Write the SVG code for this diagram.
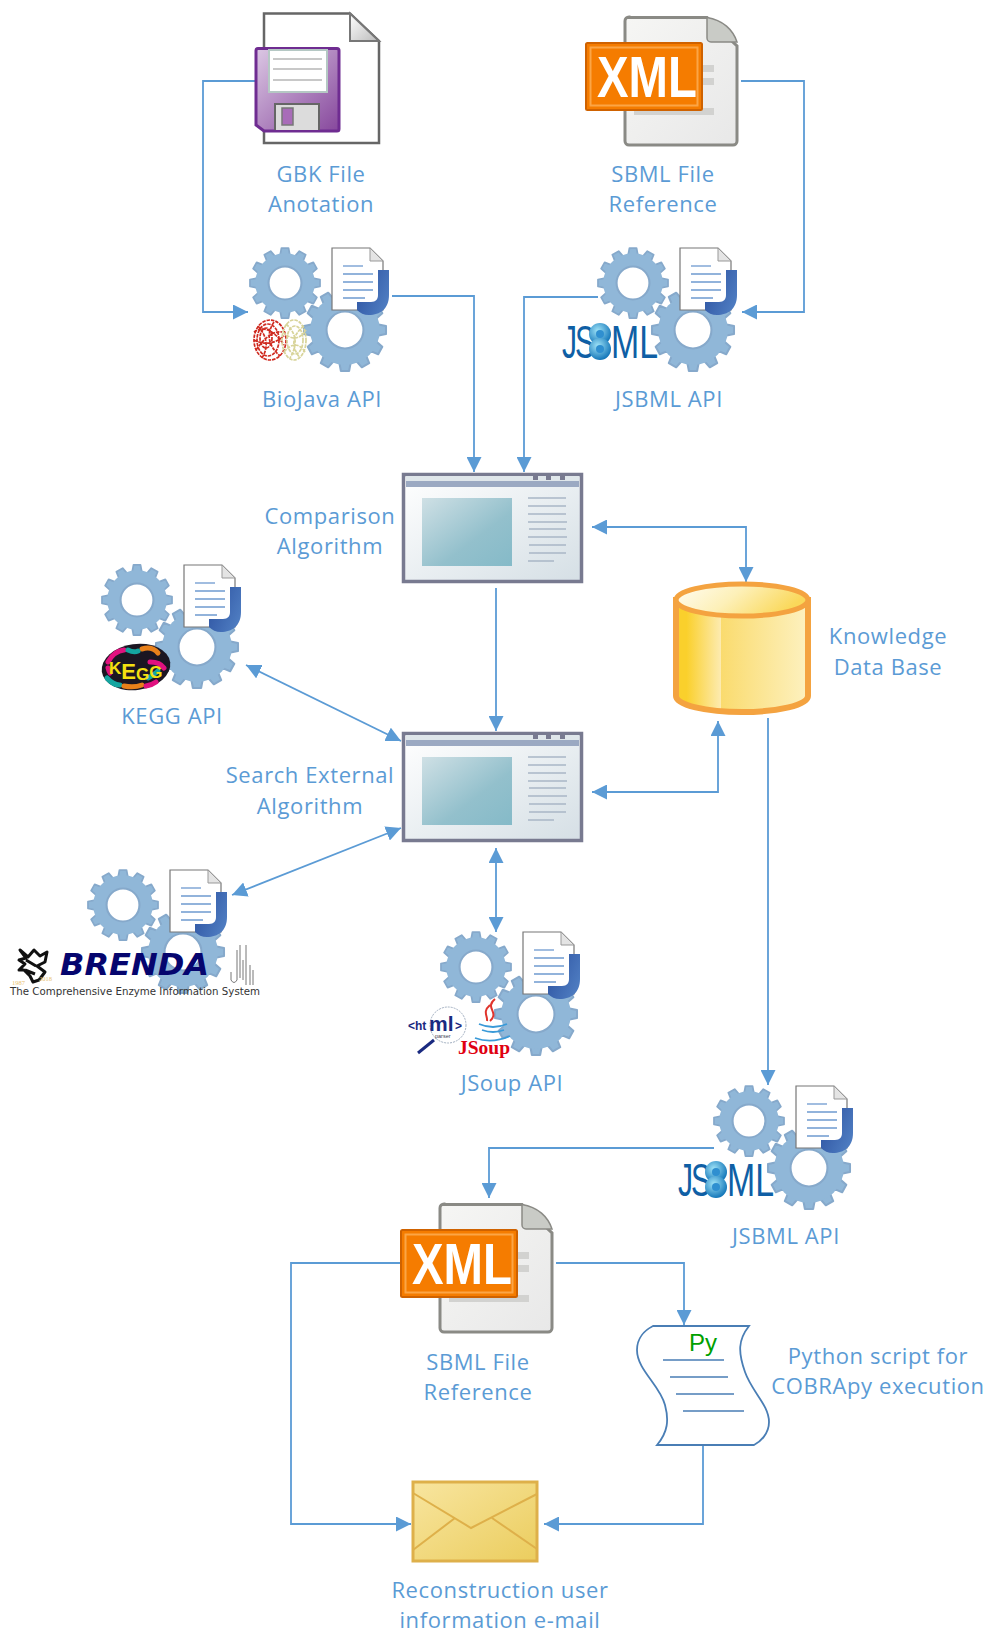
<svg xmlns="http://www.w3.org/2000/svg" xmlns:xlink="http://www.w3.org/1999/xlink" width="989" height="1632" viewBox="0 0 989 1632">
<style>
.lbl{font-family:"Open Sans","Noto Sans",sans-serif;font-size:22px;letter-spacing:.6px;fill:#5b9bd5;text-anchor:middle}
.c{fill:none;stroke:#5b9bd5;stroke-width:1.8;marker-end:url(#a)}
.b{marker-start:url(#a)}
.gear{fill:#90b7d8;stroke:#86a9cb;stroke-width:5;stroke-linejoin:round}
.hole{fill:#fff;stroke:#86a9cb}
.dl{stroke:#6f9ad0;stroke-width:1.3}
.wl{stroke:#a9b6c6;stroke-width:1.5}
</style>
<defs>
<marker id="a" viewBox="0 0 10 10" refX="10" refY="5" markerWidth="15" markerHeight="15" markerUnits="userSpaceOnUse" orient="auto-start-reverse"><path d="M0 0L10 5L0 10Z" fill="#5b9bd5"/></marker>
<linearGradient id="jg" x1="0" x2="1" y1="0" y2="0.6"><stop offset="0" stop-color="#2a4f9e"/><stop offset="1" stop-color="#4d7bc0"/></linearGradient>
<linearGradient id="wg" x1="0" y1="0" x2="1" y2="1"><stop offset="0" stop-color="#fff"/><stop offset="1" stop-color="#d5dfe5"/></linearGradient>
<linearGradient id="tg" x1="0" y1="0" x2="1" y2="1"><stop offset="0" stop-color="#cfe0e5"/><stop offset=".6" stop-color="#93c0cc"/><stop offset="1" stop-color="#85bac8"/></linearGradient>
<linearGradient id="dbg" x1="0" x2="1" y1="0" y2="0"><stop offset="0" stop-color="#fad02c"/><stop offset=".08" stop-color="#fad02c"/><stop offset=".34" stop-color="#fdebb0"/><stop offset=".34" stop-color="#fadb6e"/><stop offset="1" stop-color="#fdf1c0"/></linearGradient>
<linearGradient id="dbt" x1="0" x2="1" y1="0" y2="0.3"><stop offset="0" stop-color="#fffdf5"/><stop offset=".5" stop-color="#fdf0b8"/><stop offset="1" stop-color="#fad85a"/></linearGradient>
<linearGradient id="fg" x1="0" y1="0" x2="1" y2="1"><stop offset="0" stop-color="#dcc8e4"/><stop offset="1" stop-color="#86479c"/></linearGradient>
<linearGradient id="fold" x1="0" y1="0" x2="1" y2="1"><stop offset="0" stop-color="#fff"/><stop offset="1" stop-color="#bbb"/></linearGradient>
<linearGradient id="xp" x1="0" y1="0" x2="1" y2="1"><stop offset="0" stop-color="#f6f6f4"/><stop offset="1" stop-color="#e8e8e8"/></linearGradient>
<linearGradient id="eg" x1="0" y1="0" x2="1" y2="1"><stop offset="0" stop-color="#f8e59f"/><stop offset="1" stop-color="#ebcd5e"/></linearGradient>
<radialGradient id="ball" cx=".4" cy=".35" r=".7"><stop offset="0" stop-color="#9fe3f7"/><stop offset="1" stop-color="#0a6fb5"/></radialGradient>
<path id="gearShape" d="M-10-100L10-100L14-79L27-75L41-91L59-81L51-61L61-51L81-59L91-41L75-27L79-14L100-10L100 10L79 14L75 27L91 41L81 59L61 51L51 61L59 81L41 91L27 75L14 79L10 100L-10 100L-14 79L-27 75L-41 91L-59 81L-51 61L-61 51L-81 59L-91 41L-75 27L-79 14L-100 10L-100-10L-79-14L-75-27L-91-41L-81-59L-61-51L-51-61L-59-81L-41-91L-27-75L-14-79Z"/>
<g id="api">
<g transform="scale(.35)"><use href="#gearShape" class="gear"/><circle r="85" fill="#90b7d8"/><circle r="47" class="hole" stroke-width="6"/></g>
<g transform="translate(60 47) scale(.41)"><use href="#gearShape" class="gear"/><circle r="85" fill="#90b7d8"/><circle r="45" class="hole" stroke-width="5"/></g>
<path d="M47-35H85L98-22V27H47Z" fill="#fff" stroke="#777" stroke-width="1.2"/>
<path d="M85-35V-22H98Z" fill="#e4e4e4" stroke="#999" stroke-width="1"/>
<path d="M58-17H78" class="dl" stroke-width="2.2"/><path d="M58-9H88M58-1H88M58 7H88M58 15H80" class="dl"/>
<path d="M93-13H104V12C104 26 95 32 84 32C79 32 75 30 72 27V19H86C91 19 93 16 93 12Z" fill="url(#jg)"/>
</g>
<g id="win">
<rect x="1.5" y="1.5" width="178" height="107" fill="url(#wg)" stroke="#787a90" stroke-width="3.5"/>
<rect x="4" y="3" width="173" height="5" fill="#dfe6ea"/>
<rect x="4" y="8" width="173" height="6" fill="#9ba9c2"/>
<path d="M131 3h5v4h-5zM144 3h5v4h-5zM158 3h5v4h-5z" fill="#787a90"/>
<rect x="20" y="25" width="90" height="68" fill="url(#tg)"/>
<path d="M126 25H164M126 33H164M126 41H164M127 56H164M127 72H164M127 80H164" class="wl"/>
<path d="M126 49H165M126 64H165M126 88H152" class="wl" stroke-width="2.6"/>
</g>
<g id="xml">
<path d="M6 1.5H84L114 30V125a4 4 0 0 1-4 4H6a4 4 0 0 1-4-4V5a4 4 0 0 1 4-4Z" fill="url(#xp)" stroke="#8a8a85" stroke-width="3"/>
<path d="M84 1.5V22a4 4 0 0 0 4 4H114C110 14 100 4 84 1.5Z" fill="#c9cbc6" stroke="#8a8a85" stroke-width="1.5"/>
<path d="M70 49h21v7H70zM70 62h21v7H70zM11 92h80v7H11z" fill="#d2d2d0"/>
<rect x="-37" y="27" width="116" height="67" rx="1.5" fill="#f57c00" stroke="#cf6200" stroke-width="2"/>
<rect x="-32.500" y="31.500" width="107" height="58" fill="none" stroke="#fba546" stroke-width="2"/>
<text x="-26" y="81" font-family="'Liberation Sans',sans-serif" font-size="58" font-weight="700" fill="#fff" textLength="100" lengthAdjust="spacingAndGlyphs">XML</text>
</g>
<g id="jsbml">
<text x="0" y="33" font-family="'Liberation Sans',sans-serif" font-size="46" fill="#0f5fa5" textLength="15" lengthAdjust="spacingAndGlyphs">J</text>
<text x="13" y="33" font-family="'Liberation Sans',sans-serif" font-size="46" fill="#0f5fa5" textLength="20" lengthAdjust="spacingAndGlyphs">S</text>
<circle cx="38" cy="9" r="11" fill="url(#ball)"/><circle cx="38" cy="24" r="11" fill="url(#ball)"/>
<circle cx="38" cy="9" r="4" fill="#2f8fd0"/><circle cx="38" cy="24" r="4" fill="#2f8fd0"/>
<text x="49" y="33" font-family="'Liberation Sans',sans-serif" font-size="46" fill="#0f5fa5" textLength="47" lengthAdjust="spacingAndGlyphs">ML</text>
</g>
</defs>

<g id="connectors">
<path class="c" d="M255 81H203V312H248"/>
<path class="c" d="M741 81H804V312H742"/>
<path class="c" d="M392 296H474V472"/>
<path class="c" d="M598 297H524V472"/>
<path class="c b" d="M592 527H746V582"/>
<path class="c" d="M496 588V731"/>
<path class="c b" d="M592 792H718V721"/>
<path class="c" d="M768 718V1085"/>
<path class="c b" d="M246 665L401 741"/>
<path class="c b" d="M232 895L401 828"/>
<path class="c b" d="M496 848V932"/>
<path class="c" d="M714 1148H489V1198"/>
<path class="c" d="M556 1263H684V1325"/>
<path class="c" d="M400 1263H291V1524H411"/>
<path class="c" d="M703 1445V1524H544"/>
</g>

<g id="gbk-file">
<path d="M264 13.500H350L379 41V143H264Z" fill="#fff" stroke="#666" stroke-width="2.5"/>
<path d="M350 13.500V41H379Z" fill="url(#fold)" stroke="#777" stroke-width="2"/>
<path d="M258 48.500H337a2 2 0 0 1 2 2V129a2 2 0 0 1-2 2H264L256 125V50.500a2 2 0 0 1 2-2Z" fill="url(#fg)" stroke="#6f2c91" stroke-width="3"/>
<rect x="269" y="50" width="58" height="42" fill="#fff" stroke="#b5c8c4" stroke-width="2"/>
<path d="M273 59H322M273 69H322M273 80H322" stroke="#c8c8c8" stroke-width="2"/>
<path d="M275 130V104H319V130" fill="#dcdcdc" stroke="#666" stroke-width="2"/>
<rect x="282" y="108" width="11" height="17" fill="#a86cb8" stroke="#777" stroke-width="1.500"/>
<text class="lbl" x="321" y="182">GBK File</text>
<text class="lbl" x="321" y="212">Anotation</text>
</g>

<g id="sbml-file-top">
<use href="#xml" x="623" y="16"/>
<text class="lbl" x="663" y="182">SBML File</text>
<text class="lbl" x="663" y="212">Reference</text>
</g>

<g id="biojava-api">
<use href="#api" x="285" y="283"/>
<g fill="none" stroke-width="1.700" stroke-dasharray="3.500 1">
<g stroke="#cf2a20"><ellipse cx="270" cy="340" rx="16" ry="20"/><ellipse cx="268" cy="340" rx="11" ry="16"/><ellipse cx="266" cy="338" rx="6" ry="10"/><path d="M254 332Q268 322 284 345M256 350Q270 330 282 332M258 326Q272 342 262 358M274 322Q262 340 280 356M254 340Q270 348 284 336"/></g>
<g stroke="#d8d49a"><ellipse cx="294" cy="340" rx="12" ry="20"/><ellipse cx="295" cy="340" rx="8" ry="14"/><path d="M283 332Q296 345 306 330M284 352Q296 338 305 352M286 324Q302 338 290 358M304 326Q286 340 300 358"/></g>
</g>
<text class="lbl" x="322" y="407">BioJava API</text>
</g>

<g id="jsbml-api-top">
<use href="#api" x="633" y="283"/>
<use href="#jsbml" x="562" y="325"/>
<text class="lbl" x="669" y="407">JSBML API</text>
</g>

<g id="comparison-algorithm">
<use href="#win" x="402" y="473"/>
<text class="lbl" x="330" y="524">Comparison</text>
<text class="lbl" x="330" y="554">Algorithm</text>
</g>

<g id="knowledge-db">
<path d="M676 600V696C676 705 706 712 742 712C778 712 808 705 808 696V600Z" fill="url(#dbg)" stroke="#f4a340" stroke-width="6"/>
<ellipse cx="742" cy="600" rx="66" ry="16" fill="url(#dbt)" stroke="#f4a340" stroke-width="5"/>
<text class="lbl" x="888" y="644">Knowledge</text>
<text class="lbl" x="888" y="675">Data Base</text>
</g>

<g id="kegg-api">
<use href="#api" x="137" y="600"/>
<ellipse cx="136" cy="667" rx="34.500" ry="23" fill="#1b1622" transform="rotate(-8 136 667)"/>
<g fill="none" stroke-width="5" stroke-linecap="round">
<path d="M108 662q6-11 16-12" stroke="#e0117f"/><path d="M142 649q10-3 16 4" stroke="#e8801a"/><path d="M150 662q10 0 14 6" stroke="#e0117f"/><path d="M107 678q6 7 13 7" stroke="#14a5a0"/><path d="M124 686q10 2 18-1" stroke="#e8801a"/><path d="M148 678q6-3 10-7" stroke="#14a5a0"/><path d="M128 650q6 3 10 1" stroke="#14a5a0"/><path d="M146 686q6-1 10-4" stroke="#e0117f"/><path d="M108 668q1 4 2 5" stroke="#e0117f"/>
</g>
<text x="109" y="674" font-family="'Liberation Sans',sans-serif" font-weight="700" font-size="17" fill="#f4e010">K<tspan font-size="22" dy="5">E</tspan><tspan dy="1">G</tspan><tspan dy="-2">G</tspan></text>
<text class="lbl" x="172" y="724">KEGG API</text>
</g>

<g id="search-external">
<use href="#win" x="402" y="732"/>
<text class="lbl" x="310" y="783">Search External</text>
<text class="lbl" x="310" y="814">Algorithm</text>
</g>

<g id="brenda-api">
<use href="#api" x="123" y="905"/>
<text x="60" y="975" font-family="'DejaVu Sans',sans-serif" font-weight="700" font-style="italic" font-size="31" fill="#05056e" textLength="149" lengthAdjust="spacingAndGlyphs">BRENDA</text>
<path d="M20 950l8 7 6-7 6 6 7-4-2 10-8 4 8 6-6 8-6 2-3-6-6-6-5 0 6-6-6-4 7-2ZM26 960l10 6M25 970l10 4" fill="none" stroke="#111" stroke-width="3" stroke-linejoin="round"/>
<text x="12" y="985" font-family="'Liberation Serif',serif" font-size="6.500" fill="#e8c070">1987</text>
<text x="39" y="981" font-family="'Liberation Serif',serif" font-size="6.500" fill="#e8c070">2018</text>
<path d="M231 972V980Q234 985 237 980V950M240 945V978M243 980V960M246 945V985M250 965V985M253 970V985" fill="none" stroke="#777" stroke-width="1"/>
<text x="10" y="995" font-family="'DejaVu Sans',sans-serif" font-size="10.500" fill="#333" textLength="250" lengthAdjust="spacingAndGlyphs">The Comprehensive Enzyme Information System</text>
</g>

<g id="jsoup-api">
<use href="#api" x="476" y="967"/>
<circle cx="448" cy="1025" r="18" fill="#fff" fill-opacity=".6" stroke="#8a9ab0" stroke-width=".8" stroke-dasharray="2 1"/>
<path d="M418 1053L434 1040" stroke="#1a2a80" stroke-width="3"/>
<text x="408" y="1030" font-family="'Liberation Sans',sans-serif" font-weight="700" font-size="12" fill="#1a2a80">&lt;ht</text>
<text x="429" y="1031" font-family="'Liberation Sans',sans-serif" font-weight="700" font-size="21" fill="#1a2a80">ml</text>
<text x="455" y="1030" font-family="'Liberation Sans',sans-serif" font-weight="700" font-size="12" fill="#1a2a80">&gt;</text>
<text x="435" y="1038" font-family="'Liberation Sans',sans-serif" font-size="5.500" fill="#445">parser</text>
<g fill="none">
<path d="M495 999C484 1008 500 1012 490 1021M490 1005C482 1012 488 1016 487 1021" stroke="#e0342c" stroke-width="2"/>
<path d="M479 1024Q493 1030 507 1024M482 1030Q493 1034 504 1030M475 1038Q492 1044 510 1036" stroke="#3a9ad8" stroke-width="1.800"/>
</g>
<text x="458" y="1054" font-family="'Liberation Serif',serif" font-weight="700" font-size="19" fill="#e00010" textLength="52" lengthAdjust="spacingAndGlyphs">JSoup</text>
<text class="lbl" x="512" y="1091">JSoup API</text>
</g>

<g id="jsbml-api-bottom">
<use href="#api" x="749" y="1121"/>
<use href="#jsbml" x="678" y="1163"/>
<text class="lbl" x="786" y="1244">JSBML API</text>
</g>

<g id="sbml-file-bottom">
<use href="#xml" x="438" y="1203"/>
<text class="lbl" x="478" y="1370">SBML File</text>
<text class="lbl" x="478" y="1400">Reference</text>
</g>

<g id="python-script">
<path d="M653 1326H749C738 1340 738 1352 745 1372C752 1392 769 1405 769 1422C769 1434 760 1442 754 1445H657C668 1432 669 1420 665 1405C660 1385 637 1370 637 1350C637 1338 645 1330 653 1326Z" fill="#fff" stroke="#4a7eb5" stroke-width="1.800"/>
<path d="M663 1360H724M670 1377H728M676 1394H734M683 1411H744" stroke="#4a7eb5" stroke-width="1.500"/>
<text x="689" y="1351" font-family="'Liberation Sans',sans-serif" font-size="24" fill="#00a000">Py</text>
<text class="lbl" x="878" y="1364">Python script for</text>
<text class="lbl" x="878" y="1394">COBRApy execution</text>
</g>

<g id="email">
<rect x="413" y="1482" width="124" height="79" fill="url(#eg)" stroke="#deb04a" stroke-width="3"/>
<path d="M413 1493L471 1528L537 1494M413 1550L455 1518M537 1549L492 1518" fill="none" stroke="#deb04a" stroke-width="2"/>
<text class="lbl" x="500" y="1598">Reconstruction user</text>
<text class="lbl" x="500" y="1628">information e-mail</text>
</g>
</svg>
